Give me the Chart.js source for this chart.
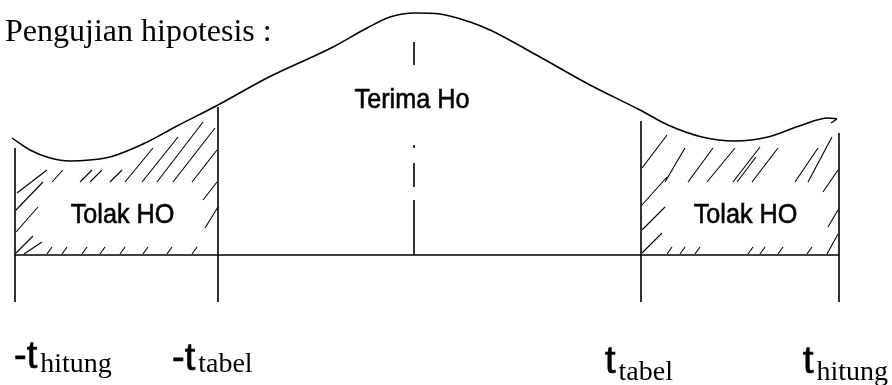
<!DOCTYPE html>
<html>
<head>
<meta charset="utf-8">
<script src="https://cdn.jsdelivr.net/npm/chart.js@4.4.1/dist/chart.umd.min.js"></script>
<style>
  html, body { margin: 0; padding: 0; background: #fff; }
  #wrap { width: 892px; height: 385px; }
</style>
</head>
<body>
<div id="wrap"><canvas id="hypoChart" width="892" height="385"></canvas></div>
<script>
// t axis (x) and curve height (y), baseline at y = 0
const curveX = [-4.02, -3.84, -3.64, -3.44, -3.24, -3.04, -2.71, -2.37, -1.96, -1.47, -0.81, -0.47, -0.24, 0.01,
  0.26, 0.56, 0.76, 1.26, 1.76, 2.26, 2.54, 2.88, 3.21, 3.54, 3.88, 4.14, 4.23];
const curveY = [1.17, 1.05, 0.97, 0.94, 0.95, 0.98, 1.11, 1.29, 1.50, 1.77, 2.08, 2.27, 2.38, 2.42,
  2.41, 2.33, 2.25, 1.98, 1.70, 1.45, 1.30, 1.18, 1.14, 1.18, 1.30, 1.37, 1.36];
const curlX = [4.23, 4.17];
const curlY = [1.36, 1.32];

// -t hitung, -t tabel, t tabel, t hitung
const boundX = [-3.99, -1.96, 2.27, 4.25];
const boundTop = [1.07, 1.48, 1.34, 1.22];
const boundBottom = -0.47;

const centerDashes = [[2.13, 1.90], [1.10, 1.07], [0.92, 0.68], [0.55, 0]];

const hatchLeft = [
  [-3.97, 0.62, -3.67, 0.85], [-3.62, 0.73, -3.51, 0.85], [-3.34, 0.73, -3.22, 0.85],
  [-3.24, 0.73, -3.12, 0.85], [-3.04, 0.73, -2.92, 0.85], [-2.89, 0.73, -2.61, 1.07],
  [-2.72, 0.73, -2.36, 1.18], [-2.57, 0.73, -2.11, 1.33], [-2.41, 0.73, -1.99, 1.27],
  [-2.22, 0.73, -1.97, 1.05], [-2.11, 0.55, -1.97, 0.73], [-2.09, 0.27, -1.96, 0.48],
  [-3.98, 0.45, -3.71, 0.73], [-3.98, 0.23, -3.76, 0.48], [-3.98, 0.02, -3.81, 0.19],
  [-3.90, 0.01, -3.72, 0.13]
];
const hatchRight = [
  [2.28, 0.87, 2.53, 1.20], [2.51, 0.73, 2.71, 1.07], [2.74, 0.73, 2.99, 1.07],
  [2.93, 0.73, 3.21, 1.07], [3.19, 0.73, 3.46, 1.08], [3.23, 0.73, 3.42, 0.98],
  [3.38, 0.73, 3.64, 1.07], [3.81, 0.73, 4.04, 1.07], [3.94, 0.73, 4.18, 1.18],
  [4.09, 0.63, 4.24, 0.85], [4.14, 0.28, 4.24, 0.45], [4.13, 0.01, 4.24, 0.21],
  [2.28, 0.50, 2.53, 0.78], [2.28, 0.25, 2.51, 0.48], [2.28, 0.02, 2.48, 0.22]
];
const tickLeftX = [-3.67, -3.52, -3.32, -3.14, -2.94, -2.71, -2.47, -2.22];
const tickRightX = [2.53, 2.66, 2.81, 3.34, 3.46, 3.64, 3.93];

const titleText = 'Pengujian hipotesis :';
const acceptText = 'Terima Ho';
const rejectText = 'Tolak HO';
const limitMain = ['-t', '-t', 't', 't'];
const limitSub = ['hitung', 'tabel', 'tabel', 'hitung'];

// helpers
const toPoints = (xs, ys) => xs.map((x, i) => ({ x: x, y: ys[i] }));
function segments(list) {
  const out = [];
  list.forEach(s => {
    out.push({ x: s[0], y: s[1] }, { x: s[2], y: s[3] }, { x: s[2], y: null });
  });
  return out;
}
const tickSegs = xs => xs.map(x => [x, 0.01, x + 0.05, 0.08]);

const lineBase = { borderColor: '#000', pointRadius: 0, fill: false, spanGaps: false, tension: 0 };

const datasets = [
  Object.assign({}, lineBase, {
    data: toPoints(curveX, curveY), borderWidth: 1.5, cubicInterpolationMode: 'monotone'
  }),
  Object.assign({}, lineBase, { data: toPoints(curlX, curlY), borderWidth: 1.4 }),
  Object.assign({}, lineBase, {
    data: segments(boundX.map((x, i) => [x, boundTop[i], x, boundBottom])), borderWidth: 1.6
  }),
  Object.assign({}, lineBase, {
    data: [{ x: boundX[0], y: 0 }, { x: boundX[3], y: 0 }], borderWidth: 1.6
  }),
  Object.assign({}, lineBase, {
    data: segments(centerDashes.map(d => [0, d[0], 0, d[1]])), borderWidth: 1.6
  }),
  Object.assign({}, lineBase, {
    data: segments(hatchLeft.concat(hatchRight, tickSegs(tickLeftX), tickSegs(tickRightX))), borderWidth: 1.1
  })
];

const labelPlugin = {
  id: 'diagramLabels',
  afterDatasetsDraw(chart) {
    const ctx = chart.ctx;
    const xs = chart.scales.x, ys = chart.scales.y;
    const px = v => xs.getPixelForValue(v), py = v => ys.getPixelForValue(v);
    ctx.save();
    ctx.fillStyle = '#000';
    ctx.strokeStyle = '#000';
    ctx.textBaseline = 'alphabetic';

    ctx.font = '32px "Liberation Serif", "Times New Roman", serif';
    ctx.textAlign = 'left';
    ctx.fillText(titleText, px(-4.09), py(2.14));

    const sans = (text, x, y, size, sx) => {
      ctx.save();
      ctx.font = size + 'px "Liberation Sans", Arial, sans-serif';
      ctx.textAlign = 'center';
      ctx.lineWidth = 0.6;
      ctx.translate(px(x), py(y));
      ctx.scale(sx, 1);
      ctx.fillText(text, 0, 0);
      ctx.strokeText(text, 0, 0);
      ctx.restore();
    };
    sans(acceptText, -0.02, 1.47, 28, 0.9);
    sans(rejectText, -2.915, 0.32, 28, 0.9);
    sans(rejectText, 3.315, 0.32, 28, 0.9);

    const mainX = [-4.00, -2.42, 1.91, 3.89];
    const mainY = [-1.13, -1.15, -1.18, -1.18];
    const subY = [-1.17, -1.17, -1.25, -1.25];
    limitMain.forEach((t, i) => {
      ctx.textAlign = 'left';
      ctx.font = '38px "Liberation Sans", Arial, sans-serif';
      const x0 = px(mainX[i]);
      ctx.lineWidth = 0.7;
      ctx.fillText(t, x0, py(mainY[i]));
      ctx.strokeText(t, x0, py(mainY[i]));
      const w = ctx.measureText(t).width;
      ctx.font = '28px "Liberation Serif", "Times New Roman", serif';
      ctx.fillText(limitSub[i], x0 + w + 3, py(subY[i]));
    });
    ctx.restore();
  }
};

new Chart(document.getElementById('hypoChart'), {
  type: 'line',
  data: { datasets: datasets },
  options: {
    responsive: false,
    animation: false,
    events: [],
    layout: { padding: 0 },
    plugins: { legend: { display: false }, tooltip: { enabled: false } },
    scales: {
      x: { type: 'linear', min: -4.14, max: 4.78, display: false },
      y: { type: 'linear', min: -1.30, max: 2.55, display: false }
    }
  },
  plugins: [labelPlugin]
});
</script>
</body>
</html>
